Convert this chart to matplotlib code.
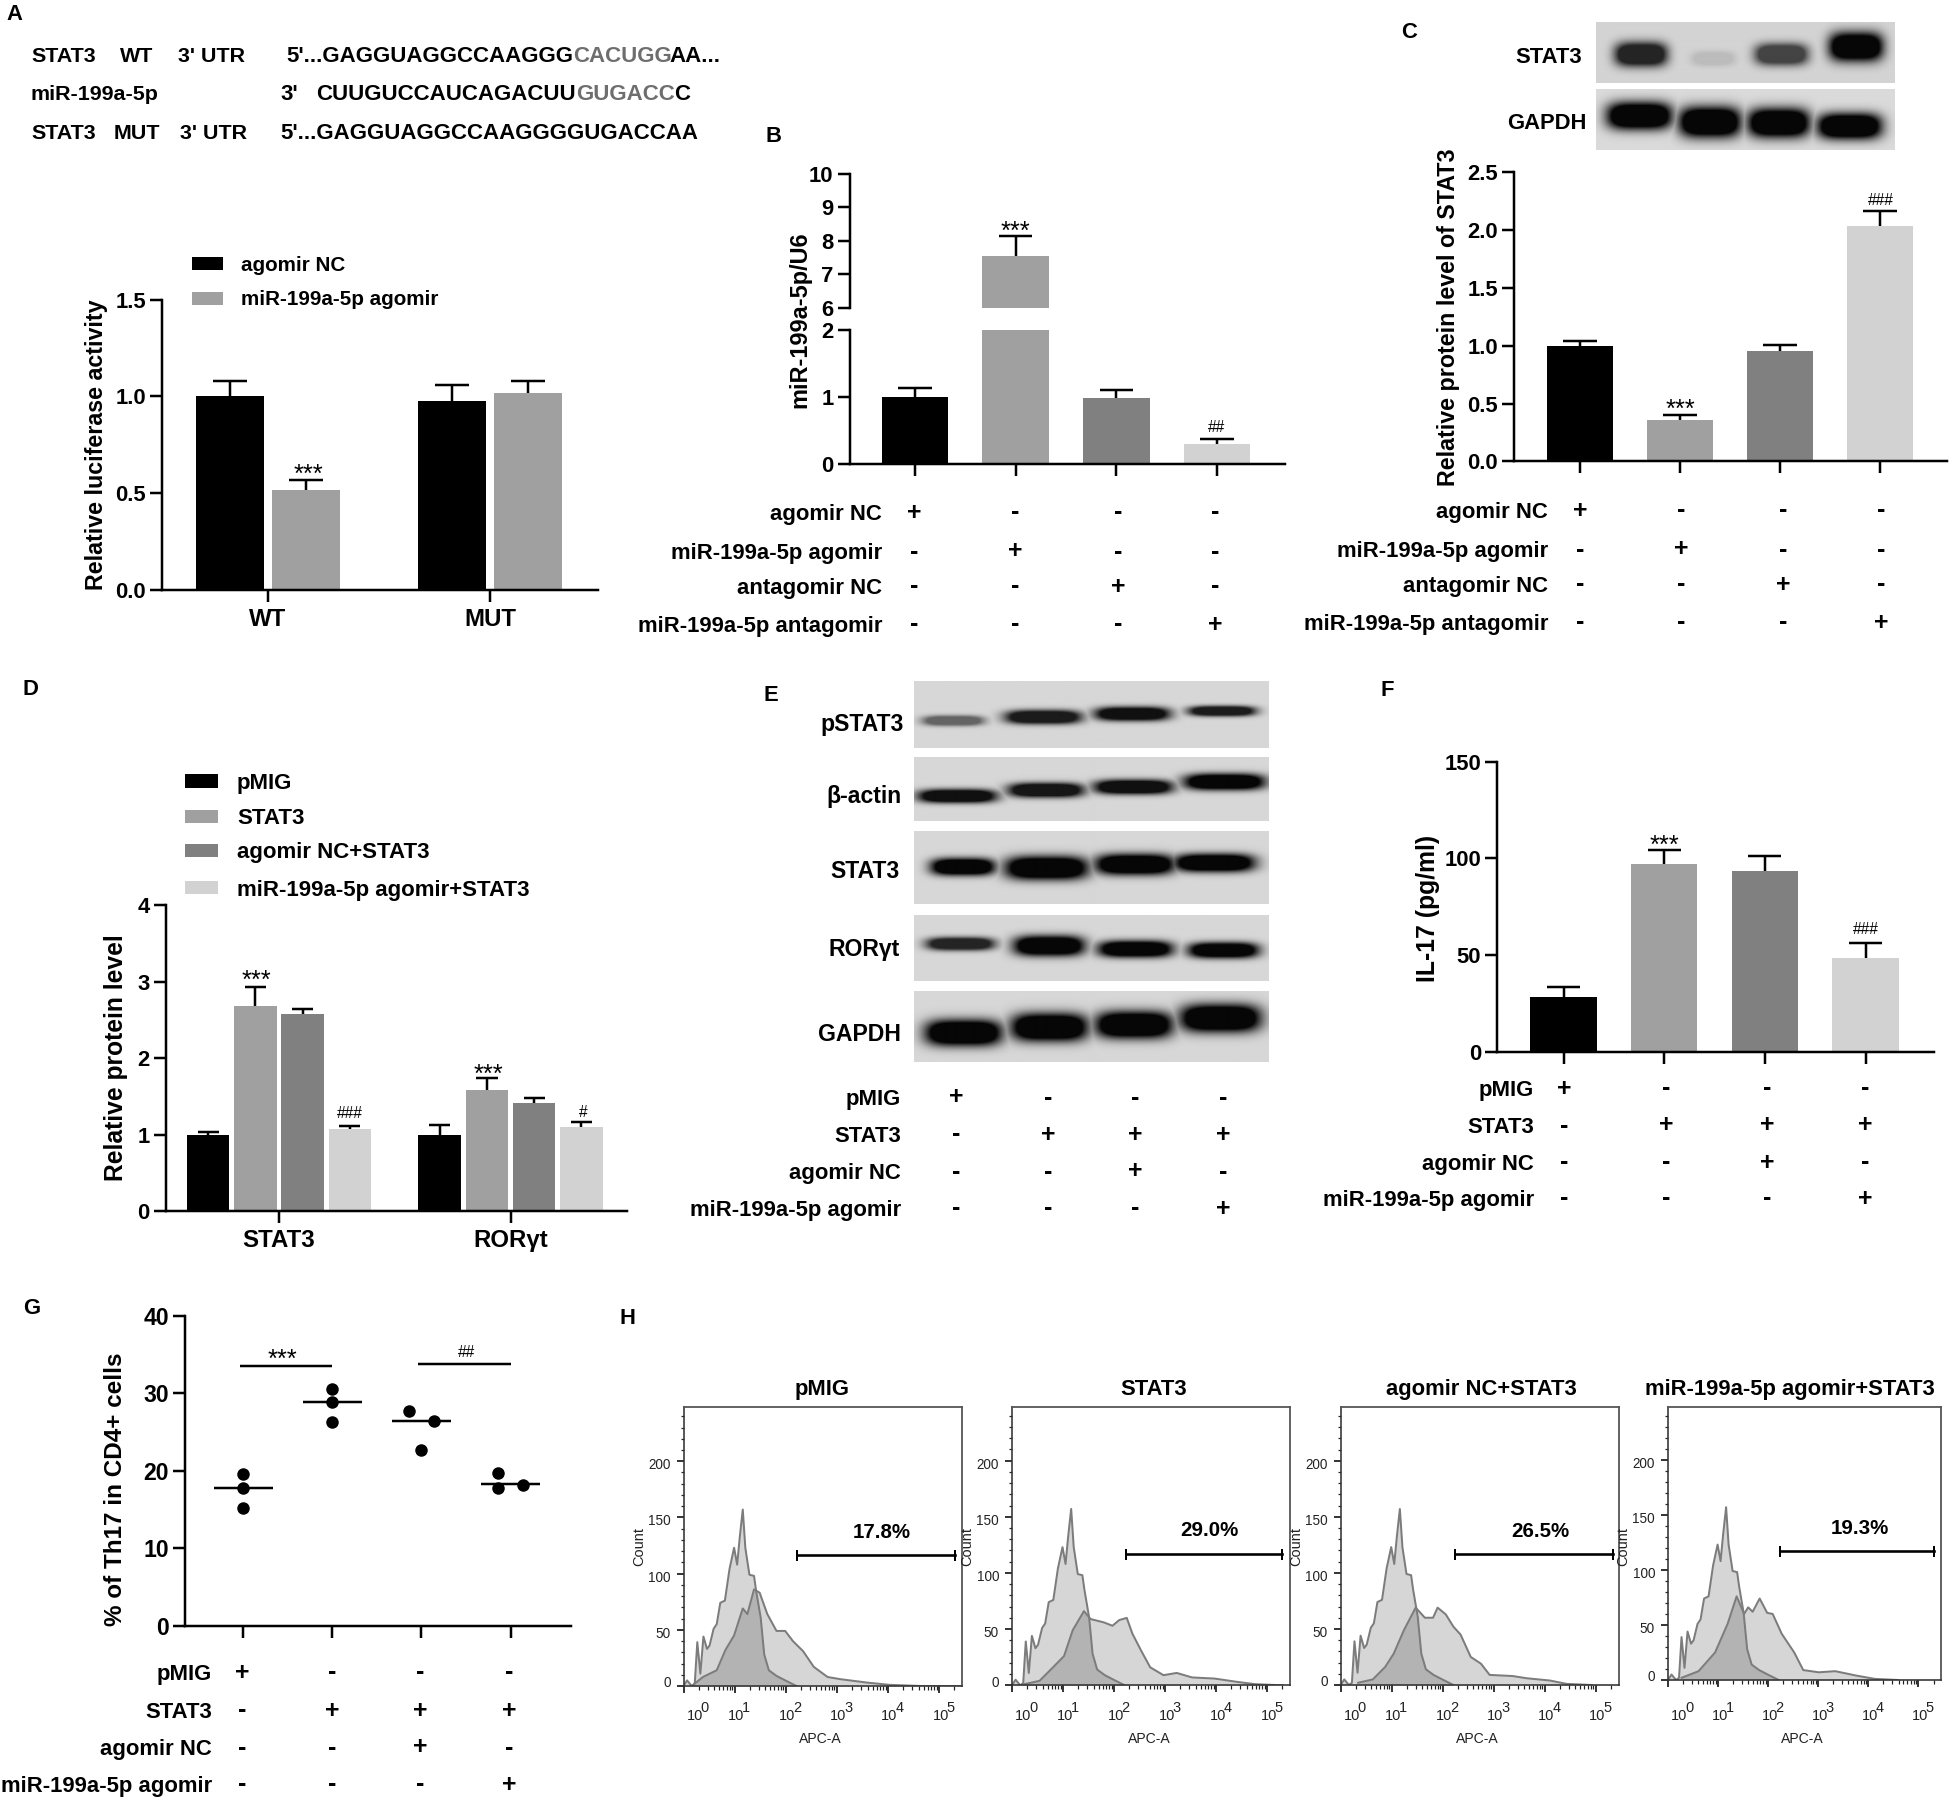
import numpy as np
import matplotlib
matplotlib.use("Agg")
import matplotlib.pyplot as plt

plt.rcParams['font.family'] = ['Liberation Sans', 'DejaVu Sans']
plt.rcParams['font.weight'] = 'bold'
plt.rcParams['axes.labelweight'] = 'bold'

W, H = 1950, 1797
fig = plt.figure(figsize=(W/100, H/100), dpi=100, facecolor='white')
PT = 0.72
LW = 2.5*PT
BLACK, MID, DARK, LIGHT = '#000000', '#A0A0A0', '#808080', '#D2D2D2'

# ---------- data ----------
A_groups = ['WT', 'MUT']
A_series = ['agomir NC', 'miR-199a-5p agomir']
A_values = [[1.0, 0.975], [0.515, 1.02]]
A_errors = [[0.08, 0.085], [0.055, 0.06]]

B_values = [1.0, 7.55, 0.98, 0.30]
B_errors = [0.13, 0.60, 0.12, 0.08]

C_values = [1.0, 0.36, 0.95, 2.03]
C_errors = [0.04, 0.045, 0.055, 0.135]

D_groups = ['STAT3', 'RORγt']
D_series = ['pMIG', 'STAT3', 'agomir NC+STAT3', 'miR-199a-5p agomir+STAT3']
D_values = [[1.0, 1.0], [2.68, 1.59], [2.58, 1.41], [1.07, 1.10]]
D_errors = [[0.04, 0.13], [0.25, 0.15], [0.06, 0.07], [0.05, 0.07]]

F_values = [28.6, 97.0, 93.3, 48.4]
F_errors = [4.9, 7.5, 7.9, 7.9]

G_points = [[19.55, 17.8, 15.2], [30.5, 28.9, 26.3], [27.75, 26.4, 22.7], [19.7, 18.2, 17.75]]
G_jitter = [[0, 0, 0], [0, 0, 0], [-0.137, 0.137, 0], [-0.137, 0.137, -0.137]]
G_means = [17.8, 28.9, 26.4, 18.25]

TABLE_AGO = ['agomir NC', 'miR-199a-5p agomir', 'antagomir NC', 'miR-199a-5p antagomir']
SIGNS_AGO = ['+---', '-+--', '--+-', '---+']
TABLE_STAT = ['pMIG', 'STAT3', 'agomir NC', 'miR-199a-5p agomir']
SIGNS_STAT = ['+---', '-+++', '--+-', '---+']

H_titles = ['pMIG', 'STAT3', 'agomir NC+STAT3', 'miR-199a-5p agomir+STAT3']
H_pct = ['17.8%', '29.0%', '26.5%', '19.3%']
H_ctrl_logx = [0.00, 0.07, 0.16, 0.22, 0.27, 0.33, 0.39, 0.46, 0.51, 0.59, 0.65, 0.72, 0.81, 0.90, 0.99, 1.05,
               1.10, 1.16, 1.21, 1.29, 1.38, 1.42, 1.51, 1.58, 1.67, 1.82, 1.99, 2.21]
H_ctrl_count = [0, 5, 0, 2, 39, 11, 44, 33, 36, 51, 55, 74, 76, 104, 123, 108,
                132, 157, 123, 99, 98, 85, 61, 28, 14, 9, 5, 0]
H1_logx = [0.16, 0.38, 0.65, 0.82, 0.99, 1.16, 1.25, 1.38, 1.49, 1.64, 1.82, 1.99, 2.14, 2.34, 2.55, 2.82, 3.08, 3.60, 4.04, 4.65, 5.44]
H1_count = [0, 8, 14, 32, 45, 69, 64, 86, 83, 64, 49, 49, 40, 31, 17, 8, 6, 3, 1, 0, 0]
H2_logx = [0.24, 0.54, 0.76, 1.02, 1.19, 1.41, 1.54, 1.80, 1.97, 2.10, 2.25, 2.36, 2.53, 2.71, 2.97, 3.23, 3.53, 3.97, 4.42, 4.77, 5.30]
H2_count = [1, 4, 14, 26, 49, 66, 59, 56, 53, 58, 60, 46, 31, 16, 9, 11, 7, 6, 3, 1, 0]
H3_logx = [0.34, 0.63, 0.87, 1.04, 1.24, 1.47, 1.65, 1.81, 1.90, 2.06, 2.21, 2.35, 2.55, 2.75, 2.92, 3.37, 3.65, 4.10, 4.43, 4.92]
H3_count = [2, 5, 16, 28, 49, 69, 60, 60, 69, 63, 52, 45, 25, 19, 9, 8, 6, 4, 1, 0]
H4_logx = [0.27, 0.61, 0.94, 1.19, 1.37, 1.52, 1.60, 1.69, 1.83, 1.98, 2.09, 2.27, 2.52, 2.70, 3.01, 3.34, 3.76, 4.13, 4.59]
H4_count = [2, 8, 25, 51, 76, 60, 66, 62, 74, 61, 60, 42, 25, 9, 7, 8, 4, 1, 0]
H_gates = [(2.23, 5.32), (2.24, 5.30), (2.25, 5.33), (2.24, 5.32)]
H_gate_count = 117
H_pct_pos = [(3.87, 137), (3.87, 137.5), (3.92, 137), (3.84, 138)]

# blot bands (band darkness by lane) -----
BLOT_C = {'STAT3': [.85, .12, .7, 1], 'GAPDH': [1, 1, 1, 1]}
BLOT_E = {'pSTAT3': [.55, .9, .95, .9], 'β-actin': [.95, .92, .95, 1], 'STAT3': [1, 1, 1, 1],
          'RORγt': [.85, 1, 1, 1], 'GAPDH': [1, 1, 1, 1]}

# ---------- helpers ----------
ov = fig.add_axes([0, 0, 1, 1], zorder=5)
ov.set_xlim(0, W); ov.set_ylim(H, 0); ov.axis('off'); ov.patch.set_alpha(0)


def T(x, y, s, ha='left', px=22.1, weight='bold', color='k', k=0.358, **kw):
    return ov.text(x, y + k*px, s, ha=ha, va='baseline', fontsize=px*PT, fontweight=weight, color=color, **kw)


def stars(x, y, s='***'):
    T(x, y, s, ha='center', px=25.5, weight='normal', k=0.58)


def hashes(x, y, s):
    T(x, y, s, ha='center', px=15.5, weight='normal', k=0.35)


def box(x0, x1, ytop, ybot, **kw):
    return fig.add_axes([x0/W, 1-ybot/H, (x1-x0)/W, (ybot-ytop)/H], **kw)


def cat_ax(x0, x1, ytop, ybot, p0, p1, n, ylim, yticks, ylab=None, z=2):
    ax = box(x0, x1, ytop, ybot, zorder=z)
    ax.patch.set_alpha(0)
    s = (p1-p0)/(n-1)
    ax.set_xlim((x0-p0)/s, (x1-p0)/s)
    ax.set_ylim(*ylim)
    for k in ('top', 'right'):
        ax.spines[k].set_visible(False)
    for k in ('left', 'bottom'):
        ax.spines[k].set_linewidth(LW)
    ax.set_yticks(yticks)
    ax.tick_params(axis='y', length=12*PT, width=LW, labelsize=22*PT, pad=4*PT)
    ax.tick_params(axis='x', length=12*PT, width=LW, labelsize=24*PT, pad=6*PT)
    ax.set_xticks(range(n))
    ax.set_xticklabels([])
    return ax, s


def bars(ax, x, vals, errs, w, cols):
    x = np.asarray(x, float)
    vals = np.asarray(vals, float)
    tops = vals + np.asarray(errs, float)
    ax.bar(x, vals, w, color=cols, linewidth=0)
    ax.vlines(x, vals, tops, color='k', lw=LW)
    ax.hlines(tops, x-w/4, x+w/4, color='k', lw=LW)


def sign_table(labels, signs, right, rows, cols):
    for lab, sg, y in zip(labels, signs, rows):
        T(right, y, lab, ha='right')
        for ch, x in zip(sg, cols):
            T(x, y, ch, ha='center', px=25, k=0.3)


def ylab(x, y, s, px=24):
    ov.text(x+2.5, y, s, rotation=90, ha='center', va='center', fontsize=px*PT, fontweight='bold')


def blot(x0, x1, ytop, ybot, bands, bg=215):
    """bands: (x0, x1, yc, h, darkness) in px; rendered as soft blobs on a grey membrane."""
    nx, ny = int(x1-x0), int(ybot-ytop)
    X, Y = np.meshgrid(np.arange(nx)+x0, np.arange(ny)+ytop)
    dark = np.zeros_like(X, float)
    for a, b, yc, h, d in bands:
        xc, hw = (a+b)/2, (b-a)/2*1.06
        fx = np.exp(-np.abs((X-xc)/hw)**4)
        fy = np.exp(-np.abs((Y-yc)/(h/2*1.12))**2.4)
        dark = np.maximum(dark, d*np.clip(fx*fy*1.7, 0, 1))
    img = bg - (bg-6)*dark
    ax = box(x0, x1, ytop, ybot, zorder=1)
    ax.imshow(img, cmap='gray', vmin=0, vmax=255, aspect='auto', interpolation='bilinear')
    ax.axis('off')


def zc(fx, fy, ox, oy):
    return lambda b, d: (b[0]/fx+ox, b[1]/fx+ox, b[2]/fy+oy, b[3]/fy, d)


# ---------- Panel letters ----------
for s, x, y in [('A', 14, 12), ('B', 773, 134), ('C', 1409, 30), ('D', 30, 687), ('E', 771, 693),
                ('F', 1387, 688), ('G', 32, 1306), ('H', 627, 1316)]:
    T(x, y, s, ha='center', px=22)

# ---------- Panel A ----------
GREY = '#6e6e6e'
for y, parts in [
    (54, [(31, 'STAT3', 'k'), (120, 'WT', 'k'), (178, "3' UTR", 'k'), (286, "5'...GAGGUAGGCCAAGGG", 'k'),
          (573, 'CACUGG', GREY), (669, 'AA...', 'k')]),
    (92, [(31, 'miR-199a-5p', 'k'), (280, "3'", 'k'), (316, 'CUUGUCCAUCAGACUU', 'k'), (576, 'GUGACC', GREY), (674, 'C', 'k')]),
    (131.5, [(31, 'STAT3', 'k'), (114, 'MUT', 'k'), (180, "3' UTR", 'k'), (280, "5'...GAGGUAGGCCAAGGGGUGACCAA", 'k')]),
]:
    for x, s, c in parts:
        T(x, y, s, color=c, px=22.3 if x > 200 else 21.5)

axA, sA = cat_ax(162, 598, 299.6, 590, 268, 490, 2, (0, 1.5), [0, .5, 1, 1.5])
axA.set_yticklabels(['0.0', '0.5', '1.0', '1.5'])
axA.set_xticklabels(A_groups)
wA = 68/222
for i, (v, e, c) in enumerate(zip(A_values, A_errors, [BLACK, MID])):
    bars(axA, np.arange(2) + (-0.171 if i == 0 else 0.171), v, e, wA, c)
ylab(94, 445, 'Relative luciferase activity', 23.3)
stars(308, 467)
for y, lab, c in [(263.5, A_series[0], BLACK), (298, A_series[1], MID)]:
    ov.add_patch(plt.Rectangle((192, y-6.5), 31, 13, color=c, lw=0))
    T(241, y, lab, px=20.7)

# ---------- Panel B ----------
cB = [BLACK, MID, DARK, LIGHT]
axB1, sB = cat_ax(849.5, 1285, 330, 464, 915, 1217, 4, (0, 2), [0, 1, 2])
axB2, _ = cat_ax(849.5, 1285, 173.5, 308, 915, 1217, 4, (6, 10), [6, 7, 8, 9, 10])
axB2.spines['bottom'].set_visible(False)
axB2.tick_params(axis='x', length=0)
for ax in (axB1, axB2):
    bars(ax, range(4), B_values, B_errors, 66.5/sB, cB)
ylab(797, 320, 'miR-199a-5p/U6', 23.5)
stars(1015.5, 224)
hashes(1217, 427, '##')
sign_table(TABLE_AGO, SIGNS_AGO, 882, [512, 551, 586, 624], [914, 1015.5, 1118, 1215])

# ---------- Panel C ----------
axC, sC = cat_ax(1514, 1947, 172, 461.5, 1580, 1880, 4, (0, 2.5), [0, .5, 1, 1.5, 2, 2.5])
axC.set_yticklabels(['0.0', '0.5', '1.0', '1.5', '2.0', '2.5'])
bars(axC, range(4), C_values, C_errors, 66.5/sC, cB)
ylab(1446, 317, 'Relative protein level of STAT3', 23.2)
stars(1680, 402)
hashes(1881, 200, '###')
sign_table(TABLE_AGO, SIGNS_AGO, 1548, [510, 549, 584, 622], [1580, 1681, 1783, 1881])

z2 = zc(1.307, 2.41, 750, 0)
pos = [(1132, 1196, 130, 50), (1232, 1285, 140, 30), (1315, 1380, 130, 45), (1412, 1478, 112, 60)]
blot(1596, 1895, 21.6, 83, [z2(b, d) for b, d in zip(pos, BLOT_C['STAT3'])], bg=212)
pos = [(1122, 1202, 278, 58), (1216, 1292, 293, 65), (1306, 1382, 295, 62), (1397, 1476, 303, 55)]
blot(1596, 1895, 89, 150, [z2(b, d) for b, d in zip(pos, BLOT_C['GAPDH'])], bg=218)
T(1582, 55.5, 'STAT3', ha='right', px=22)
T(1586, 121, 'GAPDH', ha='right', px=22)

# ---------- Panel D ----------
axD, sD = cat_ax(165.7, 626.5, 905, 1211.4, 279, 510.6, 2, (0, 4), [0, 1, 2, 3, 4])
axD.set_xticklabels(D_groups)
for v, e, c, off in zip(D_values, D_errors, cB, [-.306, -.102, .102, .306]):
    bars(axD, np.arange(2)+off, v, e, 42.5/sD, c)
ylab(113, 1058, 'Relative protein level', 24.6)
stars(256, 973); stars(488, 1067)
hashes(350, 1113, '###'); hashes(583, 1112, '#')
for y, lab, c in zip([781, 816.5, 850.5, 887.7], D_series, cB):
    ov.add_patch(plt.Rectangle((185, y-6.7), 33, 13.4, color=c, lw=0))
    T(237, y, lab, px=22.3)

# ---------- Panel E ----------
z6 = zc(2.45, 2.53, 640, 660)
rows = [
    ('pSTAT3', 680.5, 747.7, [(695, 835, 152, 22), (898, 1072, 143, 30), (1117, 1288, 135, 30), (1345, 1498, 128, 22)], 647, 160),
    ('β-actin', 757, 821, [(685, 865, 343, 30), (905, 1078, 328, 32), (1115, 1295, 320, 32), (1335, 1520, 307, 36)], 640, 340),
    ('STAT3', 831, 904, [(715, 862, 522, 38), (898, 1088, 525, 52), (1118, 1300, 516, 46), (1310, 1495, 512, 40)], 636, 530),
    ('RORγt', 914.5, 981, [(705, 860, 717, 28), (918, 1080, 722, 44), (1125, 1295, 730, 36), (1345, 1505, 733, 34)], 636, 727),
    ('GAPDH', 991, 1062, [(702, 878, 942, 58), (912, 1088, 928, 62), (1118, 1295, 922, 60), (1325, 1510, 905, 62)], 640, 943),
]
for name, yt, yb, pos, rx, ry in rows:
    blot(913.5, 1268, yt, yb, [z6(b, d) for b, d in zip(pos, BLOT_E[name])])
    T(rx/2.45+640, ry/2.53+660, name, ha='right', px=23)
sign_table(TABLE_STAT, SIGNS_STAT, 901, [1097, 1134, 1171, 1208], [956, 1048, 1135, 1223])

# ---------- Panel F ----------
axF, sF = cat_ax(1497, 1934, 761.6, 1052, 1563.5, 1865.5, 4, (0, 150), [0, 50, 100, 150])
bars(axF, range(4), F_values, F_errors, 66.5/sF, cB)
ylab(1426, 908, 'IL-17 (pg/ml)', 24.7)
stars(1664, 838)
hashes(1865.5, 929, '###')
sign_table(TABLE_STAT, SIGNS_STAT, 1534, [1088, 1125, 1162, 1198], [1564, 1666, 1767.5, 1865])

# ---------- Panel G ----------
axG, sG = cat_ax(185, 571, 1315.7, 1626, 243.4, 510.5, 4, (0, 40), [0, 10, 20, 30, 40])
axG.tick_params(axis='y', labelsize=23*PT)
for i, (pts, jit, m) in enumerate(zip(G_points, G_jitter, G_means)):
    axG.scatter(np.array(jit)+i, pts, s=81, color='k', linewidths=0, zorder=3)
    axG.hlines(m, i-.33, i+.33, color='k', lw=LW, zorder=4)
axG.hlines(33.55, -0.04, 1.0, color='k', lw=LW)
axG.hlines(33.77, 1.96, 3.0, color='k', lw=LW)
ylab(113, 1489, '% of Th17 in CD4+ cells', 24.2)
stars(282, 1352)
hashes(467, 1352, '##')
sign_table(TABLE_STAT, SIGNS_STAT, 212, [1672, 1710, 1747, 1784], [242, 332, 420, 509])

# ---------- Panel H ----------
H_boxes = [(683.5, 962, 1407.3, 1686), (1012, 1290, 1406.7, 1685.3), (1340.7, 1618.7, 1407, 1685), (1668, 1941, 1407, 1680)]
H_samples = [(H1_logx, H1_count), (H2_logx, H2_count), (H3_logx, H3_count), (H4_logx, H4_count)]
H_title_x = [822, 1153.6, 1481, 1789.6]
XMAX, YMAX = 5.45, 248
for i, (b, (sx, sy)) in enumerate(zip(H_boxes, H_samples)):
    x0, x1, yt, yb = b
    ax = box(x0, x1, yt, yb, zorder=2)
    ax.set_xlim(0, XMAX); ax.set_ylim(0, YMAX)
    for lx, cnt in [(H_ctrl_logx, H_ctrl_count), (sx, sy)]:
        ax.fill_between(lx, cnt, 0, color='k', alpha=0.16, lw=0)
    for lx, cnt in [(H_ctrl_logx, H_ctrl_count), (sx, sy)]:
        ax.plot(lx, cnt, color='#7c7c7c', lw=2*PT)
    a, c = H_gates[i]
    ax.plot([a, c], [H_gate_count]*2, color='k', lw=2.6*PT, marker='|', ms=11*PT, mew=2*PT)
    ax.text(*H_pct_pos[i], H_pct[i], ha='center', va='center', fontsize=20.5*PT)
    for k in ('top', 'right'):
        ax.spines[k].set_color('#555555'); ax.spines[k].set_linewidth(1.8*PT)
    for k in ('left', 'bottom'):
        ax.spines[k].set_color('#333333'); ax.spines[k].set_linewidth(1.6*PT)
    ax.set_yticks([0, 50, 100, 150, 200])
    ax.set_yticks(np.arange(0, 241, 10), minor=True)
    ax.set_xticks(range(6))
    ax.set_xticks([d+np.log10(m) for d in range(6) for m in range(2, 10) if d+np.log10(m) < XMAX], minor=True)
    ax.tick_params(which='major', length=7*PT, width=1.8*PT, color='#222222')
    ax.tick_params(which='minor', length=3.5*PT, width=1.2*PT, color='#222222')
    ax.set_xticklabels([]); ax.set_yticklabels([])
    dec = (x1-x0)/XMAX
    cyc = (yb-yt)/YMAX
    for v in [0, 50, 100, 150, 200]:
        yy = yb - v*cyc + (3.2 if v else -3.5)
        T(x0-13, yy, str(v), ha='right', px=13.5, weight='normal', color='#222222')
    for d in range(6):
        xt = x0 + d*dec
        shift = 11 if d == 0 else 1.5
        T(xt+shift, 1715, '10', ha='center', px=14.5, weight='normal', color='#222222')
        T(xt+shift+10, 1707, str(d), ha='center', px=14.5, weight='normal', color='#222222')
    T((x0+x1)/2-2, 1738, 'APC-A', ha='center', px=14, weight='normal', color='#222222')
    ov.text(x0-44.5, 1546, 'Count', rotation=90, ha='center', va='center', fontsize=14.5*PT, fontweight='normal', color='#222222')
    T(H_title_x[i], 1387, H_titles[i], ha='center', px=22)

fig.savefig('out.png', dpi=100, facecolor='white')
